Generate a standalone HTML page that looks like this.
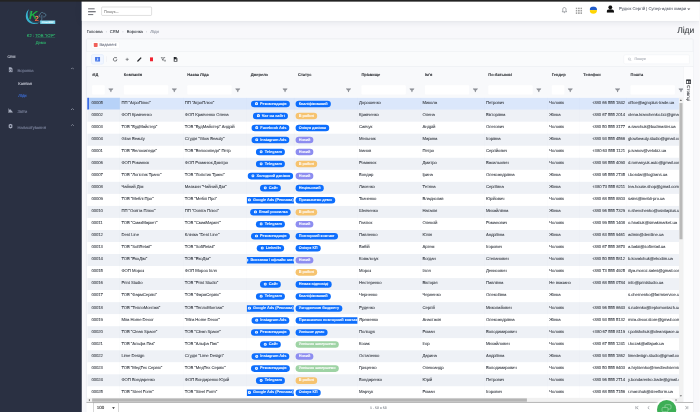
<!DOCTYPE html>
<html lang="uk">
<head>
<meta charset="utf-8">
<title>Ліди</title>
<style>
html,body{margin:0;padding:0;}
html{overflow:hidden;}
body{width:700px;height:412px;overflow:hidden;background:#f8f8fb;position:relative;font-family:"Liberation Sans",sans-serif;}
#stage{text-rendering:geometricPrecision;-webkit-text-stroke:0.3px currentColor;position:absolute;left:0;top:0;width:2560px;height:1507px;transform:scale(0.2734375);transform-origin:0 0;background:#f8f8fb;overflow:hidden;color:#495057;}
#stage *{box-sizing:border-box;}
.abs{position:absolute;}
#strip{left:0;top:0;width:2560px;height:6px;background:#232323;z-index:5;}
#side{left:0;top:0;padding-top:0;width:299px;height:1507px;background:#2a3042;}
#top{left:299px;top:0;width:2261px;height:76px;background:#fff;box-shadow:0 4px 28px rgba(18,38,63,.10),0 1px 4px rgba(18,38,63,.05);}
.t{position:absolute;white-space:nowrap;line-height:1;transform:translateY(-50%);}
/* sidebar */
.org{color:#2fb06c;-webkit-text-stroke:0.4px #2fb06c;font-size:15.2px;text-align:center;left:0;width:299px;}
.mh{color:#cfd3df;font-size:13px;left:27px;}
.mi{-webkit-text-stroke:0.4px #79809a;color:#79809a;font-size:15px;left:64px;}
.ms{color:#cdd1dd;font-size:14.9px;left:67px;}
.chev{position:absolute;left:259px;width:12px;height:7px;}
/* header */
#search{left:371px;top:25px;width:184px;height:32px;border:1.5px solid #8c8c8c;border-radius:4px;background:#fff;}
#search span{position:absolute;left:8px;top:50%;transform:translateY(-50%);font-size:14px;color:#8a8a8a;line-height:1;}
.user{color:#666b76;font-size:15.4px;}
/* page */
.bc{font-size:15.2px;color:#3c4048;}
.bc i{font-style:normal;color:#9aa0ac;margin:0 11px;}
.bc em{font-style:normal;color:#8a909d;}
#title{right:21px;font-size:31px;color:#3a3d42;}
#card{left:315px;top:141px;width:2221px;height:1380px;background:#f9fafc;border:2px solid #e5e8ed;border-radius:5px;}
#delbtn{left:335px;top:151.5px;width:102px;height:25.5px;border:1px solid #eceef2;border-radius:4px;background:#fff;}
#delbtn b{position:absolute;left:6.5px;top:4.5px;width:14.5px;height:14.5px;background:#f0605a;border-radius:2.5px;}
#delbtn span{position:absolute;left:27.5px;top:50%;transform:translateY(-50%);font-size:14.6px;color:#6b7080;line-height:1;}
.hr{height:3px;background:#e3e6eb;left:316px;width:2219px;}
#tb{left:316px;top:188px;width:2219px;height:55px;background:#fafbfc;}
#abtn{left:334px;top:199px;width:45px;height:36px;border:1.5px solid #c9dbfc;border-radius:6px;background:#f1f6ff;}
#vdiv{left:390px;top:206px;width:1px;height:21px;background:#dcdfe4;}
.ic{position:absolute;transform:translate(-50%,-50%);display:block;}
#tsearch{left:2281px;top:200px;width:241px;height:34px;border:1px solid #e4e7ec;border-radius:5px;background:#fff;}
#tsearch span{position:absolute;left:38px;top:50%;transform:translateY(-50%);font-size:13.5px;color:#a5aab3;line-height:1;}
/* grid */

#ghead{left:319px;top:244px;width:2180px;height:113px;background:#f8f9fb;overflow:hidden;}
.hc{position:absolute;top:0;height:113px;}
.hl{position:absolute;left:15px;top:29px;transform:translateY(-50%);font-weight:bold;font-size:14.5px;color:#2f3237;line-height:1;white-space:nowrap;}
.hin{position:absolute;left:15px;top:68px;height:34px;background:#fff;border-radius:3px;}
.hf{position:absolute;right:23px;top:86px;transform:translateY(-50%);width:19px;height:15px;}
.hc0 .hl,.hc0 .hin{left:18px;}
.hf svg{display:block;}
#gbody{left:319px;top:357px;width:2164px;height:1098px;overflow:hidden;background:#fff;}
.tr{position:absolute;left:0;width:2432px;height:45px;background:#fff;}
.tr.alt{background:#eef1f6;}
.tr.sel{background:#dbe7fb;}
.td{position:absolute;top:0;height:44px;overflow:hidden;white-space:nowrap;font-size:15.5px;letter-spacing:-0.25px;color:#40454d;border-left:1px solid rgba(120,130,150,.07);}
.td .tx{position:absolute;left:5px;top:19.3px;transform:translateY(-50%);line-height:1;}
.td.c0{border-left:none;}
.td.c0 .tx{left:15.2px;}
.td.c9 .tx{left:auto;right:5px;}
.sel .c0{background:#b7d2f8;border-left:6px solid #2d5fe2;}
.sel .c0 .tx{left:9.2px;}
.td.c3{display:flex;justify-content:center;align-items:center;}
.td.c4{display:flex;justify-content:flex-start;align-items:center;padding-left:4.5px;}
.bd{flex:none;display:inline-flex;align-items:center;justify-content:center;height:24px;border-radius:12px;padding:0 12px 0 12.5px;overflow:hidden;color:#fff;font-weight:bold;font-size:14.2px;line-height:1;margin-top:1px;}
.bd.s{justify-content:flex-start;padding:0 0 0 13.5px;}
.bd .bi{margin-right:7px;margin-top:-1px;display:block;flex:none;}
.bd{-webkit-text-stroke:0.12px #fff;}
.bd.b{background:#0d6efd;}
.bd.o{background:#f6c36f;}
.bd.p{background:#8d8df0;}
.bd.g{background:#9ed3a4;}
/* scrollbars */
#vs{left:2483px;top:357px;width:15px;height:1098px;background:#f1f1f1;}
#vs i{position:absolute;left:2px;top:20px;width:11px;height:498px;background:#b9b9b9;}
#hs{left:319px;top:1455px;width:2179px;height:15px;background:#f1f1f1;}
#pline{left:316px;top:1470px;width:2219px;height:3px;background:#a6a6a6;}
#hs i{position:absolute;left:18px;top:2px;height:12px;width:1590px;background:#b5b5b5;}
.arr{position:absolute;width:0;height:0;border:4.5px solid transparent;}
#sidep{left:2499px;top:244px;width:36px;height:1226px;background:#fdfdfe;border-left:1px solid #e6e8ec;}
#cols{position:absolute;left:18px;top:68px;transform-origin:0 0;transform:rotate(90deg) translateY(-50%);font-size:16px;color:#3a3d42;white-space:nowrap;line-height:1;}
/* pager */
#psel{left:342px;top:1473px;width:92px;height:40px;border:1.5px solid #6f6f6f;background:#fff;}
#psel span{position:absolute;left:11px;top:17px;transform:translateY(-50%);font-size:16.2px;color:#2b2b2b;line-height:1;}
#pinfo{left:1353px;font-size:13px;color:#7b8089;}
#fab{left:2403px;top:1463px;width:70px;height:70px;border-radius:50%;background:#3dae55;box-shadow:0 0 0 7px rgba(255,255,255,.75),0 0 14px 8px rgba(255,255,255,.6);}
</style>
</head>
<body>
<div id="stage">
  <div id="card" class="abs"></div>
  <div id="strip" class="abs"></div>
  <div class="abs" style="left:2557px;top:0;width:3px;height:1507px;background:#fbfbfb;z-index:4"></div>

  <!-- sidebar -->
  <div id="side" class="abs"><div class="abs" style="left:0;top:6px;width:299px;height:10px">
    <svg class="abs" style="left:90px;top:25px" width="120" height="66" viewBox="0 0 120 66">
      <defs><linearGradient id="kg" x1="0" y1="0" x2="1" y2="1"><stop offset="0" stop-color="#2cc257"/><stop offset="1" stop-color="#0a8a2f"/></linearGradient><linearGradient id="og" x1="0" y1="0" x2="0" y2="1"><stop offset="0" stop-color="#f2a566"/><stop offset="1" stop-color="#ef4a2f"/></linearGradient></defs>
      <path d="M17 2C3 12 0 34 12 48c10 11 30 13 45 1-13 8-30 5-38-5C9 32 9 14 17 2z" fill="#39b4d0"/>
      <path d="M22 8C14 20 14 38 26 47c8 6 20 6 28 0" fill="none" stroke="#2f93ad" stroke-width="1.300"/>
      <path d="M58 31c-6 0-7-8-1-9 0-8 10-10 13-4 7-2 11 8 4 12-2 1-4 1-6 1M63 24v14c0 6-4 9-8 10" fill="none" stroke="#6fa9c2" stroke-width="2"/>
      <rect x="57" y="44" width="55" height="12.500" fill="#79d5ec"/>
      <text x="84.500" y="54" font-family="Liberation Sans, sans-serif" font-size="9" font-weight="bold" font-style="italic" fill="#fff" text-anchor="middle">CloudERP</text>
      <text x="16" y="40" font-family="Liberation Sans, sans-serif" font-size="43" font-weight="bold" font-style="italic" fill="url(#kg)">K</text>
      <text x="37.500" y="46" font-family="Liberation Sans, sans-serif" font-size="27" font-weight="bold" fill="url(#og)">2</text>
    </svg>
    <div class="t org" style="top:126px">K2 : <u>ТОВ "К2Р"</u></div>
    <div class="t org" style="top:151px">Демо</div>
    <div class="t mh" style="top:200px">CRM</div>

    <svg class="abs" style="left:31px;top:239px" width="16" height="20" viewBox="0 0 16 20"><path d="M1 1h9l5 5v13H1z" fill="#a3a9bb"/><path d="M4 9h8v7H4z" fill="#2a3042"/><path d="M5.5 10.5h5v4h-5z" fill="#a3a9bb"/></svg>
    <div class="t mi" style="top:254px">Воронка</div>
    <svg class="chev" style="top:241px" viewBox="0 0 12 7"><path d="M1 6l5-5 5 5" fill="none" stroke="#bfc4d2" stroke-width="2.200"/></svg>
    <div class="t ms" style="top:302px">Канбан</div>
    <div class="t ms" style="top:347px;color:#3f74e6">Ліди</div>

    <svg class="abs" style="left:30px;top:390px" width="17" height="17" viewBox="0 0 17 17"><path d="M1 0v16h16" fill="none" stroke="#bfc4d2" stroke-width="2"/><path d="M3 14V6l4-3 4 5 4 2v4z" fill="#a3a9bb"/></svg>
    <div class="t mi" style="top:402px">Звіти</div>
    <svg class="chev" style="top:390px" viewBox="0 0 12 7"><path d="M1 6l5-5 5 5" fill="none" stroke="#bfc4d2" stroke-width="2.200"/></svg>

    <svg class="abs" style="left:30px;top:446px" width="17" height="19" viewBox="0 0 17 19"><path d="M8.5 0.5l7 4v10l-7 4-7-4v-10z" fill="#a3a9bb"/><circle cx="8.5" cy="9.5" r="3" fill="#2a3042"/></svg>
    <div class="t mi" style="top:461px">Налаштування</div>
    <svg class="chev" style="top:448px" viewBox="0 0 12 7"><path d="M1 6l5-5 5 5" fill="none" stroke="#bfc4d2" stroke-width="2.200"/></svg>
  </div></div>

  <!-- header -->
  <div id="top" class="abs">
    <svg class="abs" style="left:23px;top:30px" width="29" height="26" viewBox="0 0 29 26"><path d="M0 2h24M0 13h28M0 24h19" stroke="#3c4048" stroke-width="3.400"/></svg>
  </div>
  <div id="search" class="abs"><span>Пошук...</span></div>
  <svg class="ic" style="left:2064px;top:37px" width="20" height="24" viewBox="0 0 20 24"><path d="M10 2.5c-4 0-6 3-6 7v5l-2.5 3.5h17L16 14.500v-5c0-4-2-7-6-7z" fill="none" stroke="#6f747c" stroke-width="2.200"/><path d="M7.500 20.500a2.500 2.500 0 0 0 5 0z" fill="#6f747c"/></svg>
  <svg class="ic" style="left:2117px;top:39px" width="24" height="24" viewBox="0 0 24 24"><g fill="#a0a0a0"><rect x="0" y="0" width="6" height="6"/><rect x="9" y="0" width="6" height="6"/><rect x="18" y="0" width="6" height="6"/><rect x="0" y="9" width="6" height="6"/><rect x="9" y="9" width="6" height="6"/><rect x="18" y="9" width="6" height="6"/><rect x="0" y="18" width="6" height="6"/><rect x="9" y="18" width="6" height="6"/><rect x="18" y="18" width="6" height="6"/></g></svg>
  <svg class="ic" style="left:2170px;top:37px" width="28" height="28" viewBox="0 0 28 28"><defs><clipPath id="fc"><circle cx="14" cy="14" r="13.500"/></clipPath></defs><g clip-path="url(#fc)"><rect width="28" height="14" fill="#1f5bc9"/><rect y="14" width="28" height="14" fill="#ffd500"/></g></svg>
  <svg class="ic" style="left:2232px;top:33px" width="27" height="28" viewBox="0 0 27 28"><circle cx="13.500" cy="7.500" r="7" fill="#111"/><path d="M0 28v-5c0-5 5-8 13.500-8s13.500 3 13.500 8v5z" fill="#111"/></svg>
  <div class="t user" style="left:2264px;top:33px">Рудюк Сергій | Супер-адмін хмари</div>
  <svg class="ic" style="left:2519px;top:34px" width="13" height="7" viewBox="0 0 13 7"><path d="M0 0h13L6.500 7z" fill="#70737b"/></svg>

  <!-- breadcrumb -->
  <div class="t bc" style="left:317px;top:116px">Головна<i>·</i>CRM<i>·</i>Воронка<i>·</i><em>Ліди</em></div>
  <div id="title" class="t" style="top:111px">Ліди</div>

  <div id="delbtn" class="abs"><b></b><span>Видалені</span></div>
  <div class="abs hr" style="top:187px"></div>
  <div id="tb" class="abs"></div>
  <div class="abs hr" style="top:243px"></div>
  <div id="abtn" class="abs"></div>
  <svg class="ic" style="left:356.500px;top:217px" width="19" height="18" viewBox="0 0 19 18"><rect x="0" y="0" width="19" height="18" rx="2.500" fill="#4a7aea"/><rect x="7.500" y="5.500" width="4" height="7" fill="#e4edff"/><rect x="8.500" y="1.500" width="1.500" height="15" fill="#9dbbf6"/><rect x="2" y="13.500" width="4" height="3" fill="#eff5ff" opacity=".6"/></svg>
  <div id="vdiv" class="abs"></div>
  <svg class="ic" style="left:421px;top:217px" width="20" height="20" viewBox="0 0 20 20"><path d="M16.500 10a6.500 6.500 0 1 1-2-4.700" fill="none" stroke="#3f4247" stroke-width="2.500"/><path d="M11.500 5.500h4.500V1z" fill="#4a4d52"/></svg>
  <svg class="ic" style="left:465px;top:217px" width="14" height="14" viewBox="0 0 14 14"><path d="M7 1v12M1 7h12" stroke="#44474c" stroke-width="2"/></svg>
  <svg class="ic" style="left:510px;top:217px" width="19" height="19" viewBox="0 0 19 19"><path d="M1 18l1-4.500L14 1.500l3.500 3.500L5.500 17z" fill="#26282c"/></svg>
  <svg class="ic" style="left:554px;top:217px" width="12" height="16" viewBox="0 0 12 16"><path d="M0.500 2.500h11V15a1 1 0 0 1-1 1h-9a1 1 0 0 1-1-1z" fill="#f0222f"/><rect x="0" y="0.500" width="12" height="2.500" fill="#f0222f"/></svg>
  <svg class="ic" style="left:598px;top:217px" width="20" height="18" viewBox="0 0 20 18"><path d="M1 1h13v1.500l-5 5v6l-3-2V7.500l-5-5z" fill="none" stroke="#2f3237" stroke-width="2"/><path d="M12.500 11.500l6 5.500M18.500 11.500l-6 5.500" stroke="#2f3237" stroke-width="1.800"/></svg>
  <svg class="ic" style="left:642px;top:217px" width="15" height="18" viewBox="0 0 15 18"><path d="M0 0h9.500L15 5.500V18H0z" fill="#1f2226"/><path d="M4 9h7v6H4z" fill="#fff"/><path d="M9.500 0v5.500H15" fill="none" stroke="#fff" stroke-width="1"/></svg>
  <div id="tsearch" class="abs"><svg class="abs" style="left:14px;top:9px" width="14" height="14" viewBox="0 0 14 14"><circle cx="5.500" cy="5.500" r="4.300" fill="none" stroke="#a5aab3" stroke-width="1.700"/><path d="M8.800 8.800l4.200 4.200" stroke="#a5aab3" stroke-width="2"/></svg><span>Пошук</span></div>

  <!-- grid -->
  <div id="ghead" class="abs">
<div class="hc hc0" style="left:0px;width:119px"><div class="hl">#ІД</div><div class="hin" style="width:46px"></div><div class="hf"><svg class="fi" viewBox="0 0 19 15" width="19" height="15"><path d="M0.500 0.500h18v2.500L11.500 9v5.500h-4V9L0.500 3z" fill="#8f9298"/></svg></div></div>
<div class="hc hc1" style="left:119px;width:232px"><div class="hl">Компанія</div><div class="hin" style="width:162px"></div><div class="hf"><svg class="fi" viewBox="0 0 19 15" width="19" height="15"><path d="M0.500 0.500h18v2.500L11.500 9v5.500h-4V9L0.500 3z" fill="#8f9298"/></svg></div></div>
<div class="hc hc2" style="left:351px;width:232px"><div class="hl">Назва Ліда</div><div class="hin" style="width:162px"></div><div class="hf"><svg class="fi" viewBox="0 0 19 15" width="19" height="15"><path d="M0.500 0.500h18v2.500L11.500 9v5.500h-4V9L0.500 3z" fill="#8f9298"/></svg></div></div>
<div class="hc hc3" style="left:583px;width:173px"><div class="hl">Джерело</div><div class="hf"><svg class="fi" viewBox="0 0 19 15" width="19" height="15"><path d="M0.500 0.500h18v2.500L11.500 9v5.500h-4V9L0.500 3z" fill="#8f9298"/></svg></div></div>
<div class="hc hc4" style="left:756px;width:232px"><div class="hl">Статус</div><div class="hf"><svg class="fi" viewBox="0 0 19 15" width="19" height="15"><path d="M0.500 0.500h18v2.500L11.500 9v5.500h-4V9L0.500 3z" fill="#8f9298"/></svg></div></div>
<div class="hc hc5" style="left:988px;width:232px"><div class="hl">Прізвище</div><div class="hin" style="width:162px"></div><div class="hf"><svg class="fi" viewBox="0 0 19 15" width="19" height="15"><path d="M0.500 0.500h18v2.500L11.500 9v5.500h-4V9L0.500 3z" fill="#8f9298"/></svg></div></div>
<div class="hc hc6" style="left:1220px;width:232px"><div class="hl">Ім&#x27;я</div><div class="hin" style="width:162px"></div><div class="hf"><svg class="fi" viewBox="0 0 19 15" width="19" height="15"><path d="M0.500 0.500h18v2.500L11.500 9v5.500h-4V9L0.500 3z" fill="#8f9298"/></svg></div></div>
<div class="hc hc7" style="left:1452px;width:232px"><div class="hl">По-батькові</div><div class="hin" style="width:162px"></div><div class="hf"><svg class="fi" viewBox="0 0 19 15" width="19" height="15"><path d="M0.500 0.500h18v2.500L11.500 9v5.500h-4V9L0.500 3z" fill="#8f9298"/></svg></div></div>
<div class="hc hc8" style="left:1684px;width:115px"><div class="hl">Гендер</div><div class="hin" style="width:46px"></div><div class="hf"><svg class="fi" viewBox="0 0 19 15" width="19" height="15"><path d="M0.500 0.500h18v2.500L11.500 9v5.500h-4V9L0.500 3z" fill="#8f9298"/></svg></div></div>
<div class="hc hc9" style="left:1799px;width:173px"><div class="hl">Телефон</div><div class="hf"><svg class="fi" viewBox="0 0 19 15" width="19" height="15"><path d="M0.500 0.500h18v2.500L11.500 9v5.500h-4V9L0.500 3z" fill="#8f9298"/></svg></div></div>
<div class="hc hc10" style="left:1972px;width:232px"><div class="hl">Пошта</div><div class="hin" style="width:162px"></div><div class="hf"><svg class="fi" viewBox="0 0 19 15" width="19" height="15"><path d="M0.500 0.500h18v2.500L11.500 9v5.500h-4V9L0.500 3z" fill="#8f9298"/></svg></div></div>
  </div>
  <div id="gbody" class="abs">
<div class="tr sel" style="top:0px"><div class="td c0" style="left:0px;width:119px"><span class="tx">00005</span></div><div class="td c1" style="left:119px;width:232px"><span class="tx">ПП &quot;АгроПлюс&quot;</span></div><div class="td c2" style="left:351px;width:232px"><span class="tx">ПП &quot;АгроПлюс&quot;</span></div><div class="td c3" style="left:583px;width:173px"><span class="bd b s" style="width:141.5px;letter-spacing:0.026px"><svg class="bi" viewBox="0 0 12 12" width="12" height="12"><circle cx="6" cy="6" r="5.800" fill="#fff"/><path d="M6 3v6M3 6h6" stroke="#0d6efd" stroke-width="1.200"/></svg><span>Рекомендація</span></span></div><div class="td c4" style="left:756px;width:232px"><span class="bd b" style="width:129.4px;letter-spacing:-0.537px"><span>Кваліфікований</span></span></div><div class="td c5" style="left:988px;width:232px"><span class="tx">Дорошенко</span></div><div class="td c6" style="left:1220px;width:232px"><span class="tx">Микола</span></div><div class="td c7" style="left:1452px;width:232px"><span class="tx">Петрович</span></div><div class="td c8" style="left:1684px;width:115px"><span class="tx">Чоловік</span></div><div class="td c9" style="left:1799px;width:173px"><span class="tx">+380 66 555 1842</span></div><div class="td c10" style="left:1972px;width:232px"><span class="tx">office@agroplus-trade.ua</span></div></div>
<div class="tr alt" style="top:44px"><div class="td c0" style="left:0px;width:119px"><span class="tx">00002</span></div><div class="td c1" style="left:119px;width:232px"><span class="tx">ФОП Кравченко</span></div><div class="td c2" style="left:351px;width:232px"><span class="tx">ФОП Кравченко Олена</span></div><div class="td c3" style="left:583px;width:173px"><span class="bd b s" style="width:127.8px;letter-spacing:-0.077px"><svg class="bi" viewBox="0 0 12 12" width="12" height="12"><circle cx="6" cy="6" r="5.800" fill="#fff"/><path d="M6 3v6M3 6h6" stroke="#0d6efd" stroke-width="1.200"/></svg><span>Чат на сайті</span></span></div><div class="td c4" style="left:756px;width:232px"><span class="bd o" style="width:79.6px;letter-spacing:-0.55px"><span>В роботі</span></span></div><div class="td c5" style="left:988px;width:232px"><span class="tx">Кравченко</span></div><div class="td c6" style="left:1220px;width:232px"><span class="tx">Олена</span></div><div class="td c7" style="left:1452px;width:232px"><span class="tx">Вікторівна</span></div><div class="td c8" style="left:1684px;width:115px"><span class="tx">Жінка</span></div><div class="td c9" style="left:1799px;width:173px"><span class="tx">+380 67 555 2014</span></div><div class="td c10" style="left:1972px;width:232px"><span class="tx">olena.kravchenko.biz@gmail.com</span></div></div>
<div class="tr" style="top:88px"><div class="td c0" style="left:0px;width:119px"><span class="tx">00003</span></div><div class="td c1" style="left:119px;width:232px"><span class="tx">ТОВ &quot;БудМайстер&quot;</span></div><div class="td c2" style="left:351px;width:232px"><span class="tx">ТОВ &quot;БудМайстер&quot; Андрій</span></div><div class="td c3" style="left:583px;width:173px"><span class="bd b s" style="width:138.8px;letter-spacing:-0.138px"><svg class="bi" viewBox="0 0 12 12" width="12" height="12"><circle cx="6" cy="6" r="5.800" fill="#fff"/><path d="M6 3v6M3 6h6" stroke="#0d6efd" stroke-width="1.200"/></svg><span>Facebook Ads</span></span></div><div class="td c4" style="left:756px;width:232px"><span class="bd b" style="width:123.1px;letter-spacing:-0.274px"><span>Очікує дзвінка</span></span></div><div class="td c5" style="left:988px;width:232px"><span class="tx">Савчук</span></div><div class="td c6" style="left:1220px;width:232px"><span class="tx">Андрій</span></div><div class="td c7" style="left:1452px;width:232px"><span class="tx">Олегович</span></div><div class="td c8" style="left:1684px;width:115px"><span class="tx">Чоловік</span></div><div class="td c9" style="left:1799px;width:173px"><span class="tx">+380 50 555 3177</span></div><div class="td c10" style="left:1972px;width:232px"><span class="tx">a.savchuk@budmaster.ua</span></div></div>
<div class="tr alt" style="top:132px"><div class="td c0" style="left:0px;width:119px"><span class="tx">00004</span></div><div class="td c1" style="left:119px;width:232px"><span class="tx">Glow Beauty</span></div><div class="td c2" style="left:351px;width:232px"><span class="tx">Студія &quot;Glow Beauty&quot;</span></div><div class="td c3" style="left:583px;width:173px"><span class="bd b s" style="width:138.8px;letter-spacing:-0.249px"><svg class="bi" viewBox="0 0 12 12" width="12" height="12"><circle cx="6" cy="6" r="5.800" fill="#fff"/><path d="M6 3v6M3 6h6" stroke="#0d6efd" stroke-width="1.200"/></svg><span>Instagram Ads</span></span></div><div class="td c4" style="left:756px;width:232px"><span class="bd p" style="width:65.5px;letter-spacing:-0.816px"><span>Новий</span></span></div><div class="td c5" style="left:988px;width:232px"><span class="tx">Мельник</span></div><div class="td c6" style="left:1220px;width:232px"><span class="tx">Марина</span></div><div class="td c7" style="left:1452px;width:232px"><span class="tx">Ігорівна</span></div><div class="td c8" style="left:1684px;width:115px"><span class="tx">Жінка</span></div><div class="td c9" style="left:1799px;width:173px"><span class="tx">+380 93 555 4566</span></div><div class="td c10" style="left:1972px;width:232px"><span class="tx">glowbeauty.studio@gmail.com</span></div></div>
<div class="tr" style="top:176px"><div class="td c0" style="left:0px;width:119px"><span class="tx">00001</span></div><div class="td c1" style="left:119px;width:232px"><span class="tx">ТОВ &quot;Велосипеди&quot;</span></div><div class="td c2" style="left:351px;width:232px"><span class="tx">ТОВ &quot;Велосипеди&quot; Петр</span></div><div class="td c3" style="left:583px;width:173px"><span class="bd b s" style="width:106.9px;letter-spacing:0.109px"><svg class="bi" viewBox="0 0 12 12" width="12" height="12"><circle cx="6" cy="6" r="5.800" fill="#fff"/><path d="M6 3v6M3 6h6" stroke="#0d6efd" stroke-width="1.200"/></svg><span>Telegram</span></span></div><div class="td c4" style="left:756px;width:232px"><span class="bd p" style="width:65.5px;letter-spacing:-0.816px"><span>Новий</span></span></div><div class="td c5" style="left:988px;width:232px"><span class="tx">Іванов</span></div><div class="td c6" style="left:1220px;width:232px"><span class="tx">Петро</span></div><div class="td c7" style="left:1452px;width:232px"><span class="tx">Сергійович</span></div><div class="td c8" style="left:1684px;width:115px"><span class="tx">Чоловік</span></div><div class="td c9" style="left:1799px;width:173px"><span class="tx">+380 63 555 1121</span></div><div class="td c10" style="left:1972px;width:232px"><span class="tx">p.ivanov@velobiz.ua</span></div></div>
<div class="tr alt" style="top:220px"><div class="td c0" style="left:0px;width:119px"><span class="tx">00006</span></div><div class="td c1" style="left:119px;width:232px"><span class="tx">ФОП Романюк</span></div><div class="td c2" style="left:351px;width:232px"><span class="tx">ФОП Романюк Дмитро</span></div><div class="td c3" style="left:583px;width:173px"><span class="bd b s" style="width:106.9px;letter-spacing:0.109px"><svg class="bi" viewBox="0 0 12 12" width="12" height="12"><circle cx="6" cy="6" r="5.800" fill="#fff"/><path d="M6 3v6M3 6h6" stroke="#0d6efd" stroke-width="1.200"/></svg><span>Telegram</span></span></div><div class="td c4" style="left:756px;width:232px"><span class="bd o" style="width:79.6px;letter-spacing:-0.55px"><span>В роботі</span></span></div><div class="td c5" style="left:988px;width:232px"><span class="tx">Романюк</span></div><div class="td c6" style="left:1220px;width:232px"><span class="tx">Дмитро</span></div><div class="td c7" style="left:1452px;width:232px"><span class="tx">Васильович</span></div><div class="td c8" style="left:1684px;width:115px"><span class="tx">Чоловік</span></div><div class="td c9" style="left:1799px;width:173px"><span class="tx">+380 98 555 4090</span></div><div class="td c10" style="left:1972px;width:232px"><span class="tx">d.romanyuk.auto@gmail.com</span></div></div>
<div class="tr" style="top:264px"><div class="td c0" style="left:0px;width:119px"><span class="tx">00007</span></div><div class="td c1" style="left:119px;width:232px"><span class="tx">ТОВ &quot;Логістик Транс&quot;</span></div><div class="td c2" style="left:351px;width:232px"><span class="tx">ТОВ &quot;Логістик Транс&quot;</span></div><div class="td c3" style="left:583px;width:173px"><span class="bd b s" style="width:166.6px;letter-spacing:-0.281px"><svg class="bi" viewBox="0 0 12 12" width="12" height="12"><circle cx="6" cy="6" r="5.800" fill="#fff"/><path d="M6 3v6M3 6h6" stroke="#0d6efd" stroke-width="1.200"/></svg><span>Холодний дзвінок</span></span></div><div class="td c4" style="left:756px;width:232px"><span class="bd p" style="width:65.5px;letter-spacing:-0.816px"><span>Новий</span></span></div><div class="td c5" style="left:988px;width:232px"><span class="tx">Бондар</span></div><div class="td c6" style="left:1220px;width:232px"><span class="tx">Ірина</span></div><div class="td c7" style="left:1452px;width:232px"><span class="tx">Олександрівна</span></div><div class="td c8" style="left:1684px;width:115px"><span class="tx">Жінка</span></div><div class="td c9" style="left:1799px;width:173px"><span class="tx">+380 95 555 2735</span></div><div class="td c10" style="left:1972px;width:232px"><span class="tx">i.bondar@logtrans.ua</span></div></div>
<div class="tr alt" style="top:308px"><div class="td c0" style="left:0px;width:119px"><span class="tx">00008</span></div><div class="td c1" style="left:119px;width:232px"><span class="tx">Чайний Дім</span></div><div class="td c2" style="left:351px;width:232px"><span class="tx">Магазин &quot;Чайний Дім&quot;</span></div><div class="td c3" style="left:583px;width:173px"><span class="bd b s" style="width:76.5px;letter-spacing:-0.371px"><svg class="bi" viewBox="0 0 12 12" width="12" height="12"><circle cx="6" cy="6" r="5.800" fill="#fff"/><path d="M6 3v6M3 6h6" stroke="#0d6efd" stroke-width="1.200"/></svg><span>Сайт</span></span></div><div class="td c4" style="left:756px;width:232px"><span class="bd b" style="width:103.2px;letter-spacing:-0.467px"><span>Нецільовий</span></span></div><div class="td c5" style="left:988px;width:232px"><span class="tx">Лисенко</span></div><div class="td c6" style="left:1220px;width:232px"><span class="tx">Тетяна</span></div><div class="td c7" style="left:1452px;width:232px"><span class="tx">Сергіївна</span></div><div class="td c8" style="left:1684px;width:115px"><span class="tx">Жінка</span></div><div class="td c9" style="left:1799px;width:173px"><span class="tx">+380 73 555 6211</span></div><div class="td c10" style="left:1972px;width:232px"><span class="tx">tea.house.shop@gmail.com</span></div></div>
<div class="tr" style="top:352px"><div class="td c0" style="left:0px;width:119px"><span class="tx">00009</span></div><div class="td c1" style="left:119px;width:232px"><span class="tx">ТОВ &quot;Меблі Про&quot;</span></div><div class="td c2" style="left:351px;width:232px"><span class="tx">ТОВ &quot;Меблі Про&quot;</span></div><div class="td c3" style="left:583px;width:173px"><span class="bd b s" style="width:193px;letter-spacing:-0.143px"><svg class="bi" viewBox="0 0 12 12" width="12" height="12"><circle cx="6" cy="6" r="5.800" fill="#fff"/><path d="M6 3v6M3 6h6" stroke="#0d6efd" stroke-width="1.200"/></svg><span>Google Ads (Реклама)</span></span></div><div class="td c4" style="left:756px;width:232px"><span class="bd b" style="width:145px;letter-spacing:-0.216px"><span>Призначено демо</span></span></div><div class="td c5" style="left:988px;width:232px"><span class="tx">Ткаченко</span></div><div class="td c6" style="left:1220px;width:232px"><span class="tx">Владислав</span></div><div class="td c7" style="left:1452px;width:232px"><span class="tx">Юрійович</span></div><div class="td c8" style="left:1684px;width:115px"><span class="tx">Чоловік</span></div><div class="td c9" style="left:1799px;width:173px"><span class="tx">+380 68 555 8803</span></div><div class="td c10" style="left:1972px;width:232px"><span class="tx">sales@mebli-pro.ua</span></div></div>
<div class="tr alt" style="top:396px"><div class="td c0" style="left:0px;width:119px"><span class="tx">00010</span></div><div class="td c1" style="left:119px;width:232px"><span class="tx">ПП &quot;Освіта Плюс&quot;</span></div><div class="td c2" style="left:351px;width:232px"><span class="tx">ПП &quot;Освіта Плюс&quot;</span></div><div class="td c3" style="left:583px;width:173px"><span class="bd b s" style="width:148.8px;letter-spacing:-0.105px"><svg class="bi" viewBox="0 0 12 12" width="12" height="12"><circle cx="6" cy="6" r="5.800" fill="#fff"/><path d="M6 3v6M3 6h6" stroke="#0d6efd" stroke-width="1.200"/></svg><span>Email розсилка</span></span></div><div class="td c4" style="left:756px;width:232px"><span class="bd o" style="width:79.6px;letter-spacing:-0.55px"><span>В роботі</span></span></div><div class="td c5" style="left:988px;width:232px"><span class="tx">Шевченко</span></div><div class="td c6" style="left:1220px;width:232px"><span class="tx">Наталія</span></div><div class="td c7" style="left:1452px;width:232px"><span class="tx">Михайлівна</span></div><div class="td c8" style="left:1684px;width:115px"><span class="tx">Жінка</span></div><div class="td c9" style="left:1799px;width:173px"><span class="tx">+380 96 555 7329</span></div><div class="td c10" style="left:1972px;width:232px"><span class="tx">n.shevchenko@osvitaplus.ua</span></div></div>
<div class="tr" style="top:440px"><div class="td c0" style="left:0px;width:119px"><span class="tx">00011</span></div><div class="td c1" style="left:119px;width:232px"><span class="tx">ТОВ &quot;СмакМаркет&quot;</span></div><div class="td c2" style="left:351px;width:232px"><span class="tx">ТОВ &quot;СмакМаркет&quot;</span></div><div class="td c3" style="left:583px;width:173px"><span class="bd b s" style="width:106.9px;letter-spacing:0.109px"><svg class="bi" viewBox="0 0 12 12" width="12" height="12"><circle cx="6" cy="6" r="5.800" fill="#fff"/><path d="M6 3v6M3 6h6" stroke="#0d6efd" stroke-width="1.200"/></svg><span>Telegram</span></span></div><div class="td c4" style="left:756px;width:232px"><span class="bd p" style="width:65.5px;letter-spacing:-0.816px"><span>Новий</span></span></div><div class="td c5" style="left:988px;width:232px"><span class="tx">Гнатюк</span></div><div class="td c6" style="left:1220px;width:232px"><span class="tx">Олексій</span></div><div class="td c7" style="left:1452px;width:232px"><span class="tx">Романович</span></div><div class="td c8" style="left:1684px;width:115px"><span class="tx">Чоловік</span></div><div class="td c9" style="left:1799px;width:173px"><span class="tx">+380 99 555 1408</span></div><div class="td c10" style="left:1972px;width:232px"><span class="tx">o.hnatiuk@smakmarket.ua</span></div></div>
<div class="tr alt" style="top:484px"><div class="td c0" style="left:0px;width:119px"><span class="tx">00012</span></div><div class="td c1" style="left:119px;width:232px"><span class="tx">Dent Line</span></div><div class="td c2" style="left:351px;width:232px"><span class="tx">Клініка &quot;Dent Line&quot;</span></div><div class="td c3" style="left:583px;width:173px"><span class="bd b s" style="width:141.5px;letter-spacing:0.026px"><svg class="bi" viewBox="0 0 12 12" width="12" height="12"><circle cx="6" cy="6" r="5.800" fill="#fff"/><path d="M6 3v6M3 6h6" stroke="#0d6efd" stroke-width="1.200"/></svg><span>Рекомендація</span></span></div><div class="td c4" style="left:756px;width:232px"><span class="bd b" style="width:155.6px;letter-spacing:-0.199px"><span>Повторний контакт</span></span></div><div class="td c5" style="left:988px;width:232px"><span class="tx">Павленко</span></div><div class="td c6" style="left:1220px;width:232px"><span class="tx">Юлія</span></div><div class="td c7" style="left:1452px;width:232px"><span class="tx">Андріївна</span></div><div class="td c8" style="left:1684px;width:115px"><span class="tx">Жінка</span></div><div class="td c9" style="left:1799px;width:173px"><span class="tx">+380 63 555 9461</span></div><div class="td c10" style="left:1972px;width:232px"><span class="tx">admin@dentline.ua</span></div></div>
<div class="tr" style="top:528px"><div class="td c0" style="left:0px;width:119px"><span class="tx">00013</span></div><div class="td c1" style="left:119px;width:232px"><span class="tx">ТОВ &quot;SoftRetail&quot;</span></div><div class="td c2" style="left:351px;width:232px"><span class="tx">ТОВ &quot;SoftRetail&quot;</span></div><div class="td c3" style="left:583px;width:173px"><span class="bd b s" style="width:99.5px;letter-spacing:-0.355px"><svg class="bi" viewBox="0 0 12 12" width="12" height="12"><circle cx="6" cy="6" r="5.800" fill="#fff"/><path d="M6 3v6M3 6h6" stroke="#0d6efd" stroke-width="1.200"/></svg><span>LinkedIn</span></span></div><div class="td c4" style="left:756px;width:232px"><span class="bd b" style="width:92.7px;letter-spacing:-0.072px"><span>Очікує КП</span></span></div><div class="td c5" style="left:988px;width:232px"><span class="tx">Бабій</span></div><div class="td c6" style="left:1220px;width:232px"><span class="tx">Артем</span></div><div class="td c7" style="left:1452px;width:232px"><span class="tx">Ігорович</span></div><div class="td c8" style="left:1684px;width:115px"><span class="tx">Чоловік</span></div><div class="td c9" style="left:1799px;width:173px"><span class="tx">+380 67 555 3670</span></div><div class="td c10" style="left:1972px;width:232px"><span class="tx">a.babii@softretail.ua</span></div></div>
<div class="tr alt" style="top:572px"><div class="td c0" style="left:0px;width:119px"><span class="tx">00014</span></div><div class="td c1" style="left:119px;width:232px"><span class="tx">ТОВ &quot;ЕкоДім&quot;</span></div><div class="td c2" style="left:351px;width:232px"><span class="tx">ТОВ &quot;ЕкоДім&quot;</span></div><div class="td c3" style="left:583px;width:173px"><span class="bd b s" style="width:211px;letter-spacing:-0.204px"><svg class="bi" viewBox="0 0 12 12" width="12" height="12"><circle cx="6" cy="6" r="5.800" fill="#fff"/><path d="M6 3v6M3 6h6" stroke="#0d6efd" stroke-width="1.200"/></svg><span>Виставка / офлайн захід</span></span></div><div class="td c4" style="left:756px;width:232px"><span class="bd p" style="width:65.5px;letter-spacing:-0.816px"><span>Новий</span></span></div><div class="td c5" style="left:988px;width:232px"><span class="tx">Ковальчук</span></div><div class="td c6" style="left:1220px;width:232px"><span class="tx">Богдан</span></div><div class="td c7" style="left:1452px;width:232px"><span class="tx">Степанович</span></div><div class="td c8" style="left:1684px;width:115px"><span class="tx">Чоловік</span></div><div class="td c9" style="left:1799px;width:173px"><span class="tx">+380 50 555 5812</span></div><div class="td c10" style="left:1972px;width:232px"><span class="tx">b.kovalchuk@ekodim.ua</span></div></div>
<div class="tr" style="top:616px"><div class="td c0" style="left:0px;width:119px"><span class="tx">00015</span></div><div class="td c1" style="left:119px;width:232px"><span class="tx">ФОП Мороз</span></div><div class="td c2" style="left:351px;width:232px"><span class="tx">ФОП Мороз Ілля</span></div><div class="td c3" style="left:583px;width:173px"></div><div class="td c4" style="left:756px;width:232px"><span class="bd o" style="width:79.6px;letter-spacing:-0.55px"><span>В роботі</span></span></div><div class="td c5" style="left:988px;width:232px"><span class="tx">Мороз</span></div><div class="td c6" style="left:1220px;width:232px"><span class="tx">Ілля</span></div><div class="td c7" style="left:1452px;width:232px"><span class="tx">Денисович</span></div><div class="td c8" style="left:1684px;width:115px"><span class="tx">Чоловік</span></div><div class="td c9" style="left:1799px;width:173px"><span class="tx">+380 73 555 4925</span></div><div class="td c10" style="left:1972px;width:232px"><span class="tx">illya.moroz.sales@gmail.com</span></div></div>
<div class="tr alt" style="top:660px"><div class="td c0" style="left:0px;width:119px"><span class="tx">00016</span></div><div class="td c1" style="left:119px;width:232px"><span class="tx">Print Studio</span></div><div class="td c2" style="left:351px;width:232px"><span class="tx">ТОВ &quot;Print Studio&quot;</span></div><div class="td c3" style="left:583px;width:173px"><span class="bd b s" style="width:76.5px;letter-spacing:-0.371px"><svg class="bi" viewBox="0 0 12 12" width="12" height="12"><circle cx="6" cy="6" r="5.800" fill="#fff"/><path d="M6 3v6M3 6h6" stroke="#0d6efd" stroke-width="1.200"/></svg><span>Сайт</span></span></div><div class="td c4" style="left:756px;width:232px"><span class="bd b" style="width:132px;letter-spacing:-0.33px"><span>Немає відповіді</span></span></div><div class="td c5" style="left:988px;width:232px"><span class="tx">Нестеренко</span></div><div class="td c6" style="left:1220px;width:232px"><span class="tx">Вікторія</span></div><div class="td c7" style="left:1452px;width:232px"><span class="tx">Павлівна</span></div><div class="td c8" style="left:1684px;width:115px"><span class="tx">Не вказано</span></div><div class="td c9" style="left:1799px;width:173px"><span class="tx">+380 68 555 0784</span></div><div class="td c10" style="left:1972px;width:232px"><span class="tx">info@printstudio.ua</span></div></div>
<div class="tr" style="top:704px"><div class="td c0" style="left:0px;width:119px"><span class="tx">00017</span></div><div class="td c1" style="left:119px;width:232px"><span class="tx">ТОВ &quot;ФармСервіс&quot;</span></div><div class="td c2" style="left:351px;width:232px"><span class="tx">ТОВ &quot;ФармСервіс&quot;</span></div><div class="td c3" style="left:583px;width:173px"><span class="bd b s" style="width:106.9px;letter-spacing:0.109px"><svg class="bi" viewBox="0 0 12 12" width="12" height="12"><circle cx="6" cy="6" r="5.800" fill="#fff"/><path d="M6 3v6M3 6h6" stroke="#0d6efd" stroke-width="1.200"/></svg><span>Telegram</span></span></div><div class="td c4" style="left:756px;width:232px"><span class="bd b" style="width:129.4px;letter-spacing:-0.537px"><span>Кваліфікований</span></span></div><div class="td c5" style="left:988px;width:232px"><span class="tx">Черненко</span></div><div class="td c6" style="left:1220px;width:232px"><span class="tx">Черненко</span></div><div class="td c7" style="left:1452px;width:232px"><span class="tx">Олексіївна</span></div><div class="td c8" style="left:1684px;width:115px"><span class="tx">Жінка</span></div><div class="td c9" style="left:1799px;width:173px"><span class="tx"></span></div><div class="td c10" style="left:1972px;width:232px"><span class="tx">s.chernenko@farmservice.ua</span></div></div>
<div class="tr alt" style="top:748px"><div class="td c0" style="left:0px;width:119px"><span class="tx">00018</span></div><div class="td c1" style="left:119px;width:232px"><span class="tx">ТОВ &quot;ТеплоМонтаж&quot;</span></div><div class="td c2" style="left:351px;width:232px"><span class="tx">ТОВ &quot;ТеплоМонтаж&quot;</span></div><div class="td c3" style="left:583px;width:173px"><span class="bd b s" style="width:193px;letter-spacing:-0.143px"><svg class="bi" viewBox="0 0 12 12" width="12" height="12"><circle cx="6" cy="6" r="5.800" fill="#fff"/><path d="M6 3v6M3 6h6" stroke="#0d6efd" stroke-width="1.200"/></svg><span>Google Ads (Реклама)</span></span></div><div class="td c4" style="left:756px;width:232px"><span class="bd b" style="width:171.9px;letter-spacing:-0.032px"><span>Узгодження бюджету</span></span></div><div class="td c5" style="left:988px;width:232px"><span class="tx">Руденко</span></div><div class="td c6" style="left:1220px;width:232px"><span class="tx">Сергій</span></div><div class="td c7" style="left:1452px;width:232px"><span class="tx">Миколайович</span></div><div class="td c8" style="left:1684px;width:115px"><span class="tx">Чоловік</span></div><div class="td c9" style="left:1799px;width:173px"><span class="tx">+380 96 555 6643</span></div><div class="td c10" style="left:1972px;width:232px"><span class="tx">s.rudenko@teplomontazh.ua</span></div></div>
<div class="tr" style="top:792px"><div class="td c0" style="left:0px;width:119px"><span class="tx">00019</span></div><div class="td c1" style="left:119px;width:232px"><span class="tx">Mira Home Decor</span></div><div class="td c2" style="left:351px;width:232px"><span class="tx">&quot;Mira Home Decor&quot;</span></div><div class="td c3" style="left:583px;width:173px"><span class="bd b s" style="width:138.8px;letter-spacing:-0.249px"><svg class="bi" viewBox="0 0 12 12" width="12" height="12"><circle cx="6" cy="6" r="5.800" fill="#fff"/><path d="M6 3v6M3 6h6" stroke="#0d6efd" stroke-width="1.200"/></svg><span>Instagram Ads</span></span></div><div class="td c4" style="left:756px;width:232px"><span class="bd b" style="width:245.4px;letter-spacing:0px"><span>Призначено повторний контакт</span></span></div><div class="td c5" style="left:988px;width:232px"><span class="tx">Яременко</span></div><div class="td c6" style="left:1220px;width:232px"><span class="tx">Анастасія</span></div><div class="td c7" style="left:1452px;width:232px"><span class="tx">Олександрівна</span></div><div class="td c8" style="left:1684px;width:115px"><span class="tx">Жінка</span></div><div class="td c9" style="left:1799px;width:173px"><span class="tx">+380 93 555 5132</span></div><div class="td c10" style="left:1972px;width:232px"><span class="tx">mira.decor.store@gmail.com</span></div></div>
<div class="tr alt" style="top:836px"><div class="td c0" style="left:0px;width:119px"><span class="tx">00020</span></div><div class="td c1" style="left:119px;width:232px"><span class="tx">ТОВ &quot;Clean Space&quot;</span></div><div class="td c2" style="left:351px;width:232px"><span class="tx">ТОВ &quot;Clean Space&quot;</span></div><div class="td c3" style="left:583px;width:173px"><span class="bd b s" style="width:141.5px;letter-spacing:0.026px"><svg class="bi" viewBox="0 0 12 12" width="12" height="12"><circle cx="6" cy="6" r="5.800" fill="#fff"/><path d="M6 3v6M3 6h6" stroke="#0d6efd" stroke-width="1.200"/></svg><span>Рекомендація</span></span></div><div class="td c4" style="left:756px;width:232px"><span class="bd b" style="width:117.9px;letter-spacing:-0.237px"><span>Успішне демо</span></span></div><div class="td c5" style="left:988px;width:232px"><span class="tx">Поліщук</span></div><div class="td c6" style="left:1220px;width:232px"><span class="tx">Роман</span></div><div class="td c7" style="left:1452px;width:232px"><span class="tx">Володимирович</span></div><div class="td c8" style="left:1684px;width:115px"><span class="tx">Чоловік</span></div><div class="td c9" style="left:1799px;width:173px"><span class="tx">+380 67 555 8119</span></div><div class="td c10" style="left:1972px;width:232px"><span class="tx">r.polishchuk@cleanspace.ua</span></div></div>
<div class="tr" style="top:880px"><div class="td c0" style="left:0px;width:119px"><span class="tx">00021</span></div><div class="td c1" style="left:119px;width:232px"><span class="tx">ТОВ &quot;Альфа Пак&quot;</span></div><div class="td c2" style="left:351px;width:232px"><span class="tx">ТОВ &quot;Альфа Пак&quot;</span></div><div class="td c3" style="left:583px;width:173px"><span class="bd b s" style="width:76.5px;letter-spacing:-0.371px"><svg class="bi" viewBox="0 0 12 12" width="12" height="12"><circle cx="6" cy="6" r="5.800" fill="#fff"/><path d="M6 3v6M3 6h6" stroke="#0d6efd" stroke-width="1.200"/></svg><span>Сайт</span></span></div><div class="td c4" style="left:756px;width:232px"><span class="bd g" style="width:158.2px;letter-spacing:-0.261px"><span>Успішно завершено</span></span></div><div class="td c5" style="left:988px;width:232px"><span class="tx">Козак</span></div><div class="td c6" style="left:1220px;width:232px"><span class="tx">Ігор</span></div><div class="td c7" style="left:1452px;width:232px"><span class="tx">Михайлович</span></div><div class="td c8" style="left:1684px;width:115px"><span class="tx">Чоловік</span></div><div class="td c9" style="left:1799px;width:173px"><span class="tx">+380 67 555 1241</span></div><div class="td c10" style="left:1972px;width:232px"><span class="tx">i.kozak@alfapak.ua</span></div></div>
<div class="tr alt" style="top:924px"><div class="td c0" style="left:0px;width:119px"><span class="tx">00022</span></div><div class="td c1" style="left:119px;width:232px"><span class="tx">Lime Design</span></div><div class="td c2" style="left:351px;width:232px"><span class="tx">Студія &quot;Lime Design&quot;</span></div><div class="td c3" style="left:583px;width:173px"><span class="bd b s" style="width:138.8px;letter-spacing:-0.249px"><svg class="bi" viewBox="0 0 12 12" width="12" height="12"><circle cx="6" cy="6" r="5.800" fill="#fff"/><path d="M6 3v6M3 6h6" stroke="#0d6efd" stroke-width="1.200"/></svg><span>Instagram Ads</span></span></div><div class="td c4" style="left:756px;width:232px"><span class="bd p" style="width:65.5px;letter-spacing:-0.816px"><span>Новий</span></span></div><div class="td c5" style="left:988px;width:232px"><span class="tx">Остапенко</span></div><div class="td c6" style="left:1220px;width:232px"><span class="tx">Дарина</span></div><div class="td c7" style="left:1452px;width:232px"><span class="tx">Андріївна</span></div><div class="td c8" style="left:1684px;width:115px"><span class="tx">Жінка</span></div><div class="td c9" style="left:1799px;width:173px"><span class="tx">+380 93 555 1862</span></div><div class="td c10" style="left:1972px;width:232px"><span class="tx">limedesign.studio@gmail.com</span></div></div>
<div class="tr" style="top:968px"><div class="td c0" style="left:0px;width:119px"><span class="tx">00023</span></div><div class="td c1" style="left:119px;width:232px"><span class="tx">ТОВ &quot;МедТех Сервіс&quot;</span></div><div class="td c2" style="left:351px;width:232px"><span class="tx">ТОВ &quot;МедТех Сервіс&quot;</span></div><div class="td c3" style="left:583px;width:173px"><span class="bd b s" style="width:141.5px;letter-spacing:0.026px"><svg class="bi" viewBox="0 0 12 12" width="12" height="12"><circle cx="6" cy="6" r="5.800" fill="#fff"/><path d="M6 3v6M3 6h6" stroke="#0d6efd" stroke-width="1.200"/></svg><span>Рекомендація</span></span></div><div class="td c4" style="left:756px;width:232px"><span class="bd g" style="width:158.2px;letter-spacing:-0.261px"><span>Успішно завершено</span></span></div><div class="td c5" style="left:988px;width:232px"><span class="tx">Гриценко</span></div><div class="td c6" style="left:1220px;width:232px"><span class="tx">Олександр</span></div><div class="td c7" style="left:1452px;width:232px"><span class="tx">Володимирович</span></div><div class="td c8" style="left:1684px;width:115px"><span class="tx">Чоловік</span></div><div class="td c9" style="left:1799px;width:173px"><span class="tx">+380 50 555 6403</span></div><div class="td c10" style="left:1972px;width:232px"><span class="tx">a.hrytsenko@medtechservice.ua</span></div></div>
<div class="tr alt" style="top:1012px"><div class="td c0" style="left:0px;width:119px"><span class="tx">00024</span></div><div class="td c1" style="left:119px;width:232px"><span class="tx">ФОП Бондаренко</span></div><div class="td c2" style="left:351px;width:232px"><span class="tx">ФОП Бондаренко Юрій</span></div><div class="td c3" style="left:583px;width:173px"><span class="bd b s" style="width:106.9px;letter-spacing:0.109px"><svg class="bi" viewBox="0 0 12 12" width="12" height="12"><circle cx="6" cy="6" r="5.800" fill="#fff"/><path d="M6 3v6M3 6h6" stroke="#0d6efd" stroke-width="1.200"/></svg><span>Telegram</span></span></div><div class="td c4" style="left:756px;width:232px"><span class="bd o" style="width:79.6px;letter-spacing:-0.55px"><span>В роботі</span></span></div><div class="td c5" style="left:988px;width:232px"><span class="tx">Бондаренко</span></div><div class="td c6" style="left:1220px;width:232px"><span class="tx">Юрій</span></div><div class="td c7" style="left:1452px;width:232px"><span class="tx">Петрович</span></div><div class="td c8" style="left:1684px;width:115px"><span class="tx">Чоловік</span></div><div class="td c9" style="left:1799px;width:173px"><span class="tx">+380 96 555 2714</span></div><div class="td c10" style="left:1972px;width:232px"><span class="tx">y.bondarenko.trade@gmail.com</span></div></div>
<div class="tr" style="top:1056px"><div class="td c0" style="left:0px;width:119px"><span class="tx">00025</span></div><div class="td c1" style="left:119px;width:232px"><span class="tx">ТОВ &quot;Steel Form&quot;</span></div><div class="td c2" style="left:351px;width:232px"><span class="tx">ТОВ &quot;Steel Form&quot;</span></div><div class="td c3" style="left:583px;width:173px"><span class="bd b s" style="width:193px;letter-spacing:-0.143px"><svg class="bi" viewBox="0 0 12 12" width="12" height="12"><circle cx="6" cy="6" r="5.800" fill="#fff"/><path d="M6 3v6M3 6h6" stroke="#0d6efd" stroke-width="1.200"/></svg><span>Google Ads (Реклама)</span></span></div><div class="td c4" style="left:756px;width:232px"><span class="bd b" style="width:92.7px;letter-spacing:-0.072px"><span>Очікує КП</span></span></div><div class="td c5" style="left:988px;width:232px"><span class="tx">Марчук</span></div><div class="td c6" style="left:1220px;width:232px"><span class="tx">Роман</span></div><div class="td c7" style="left:1452px;width:232px"><span class="tx">Ігорович</span></div><div class="td c8" style="left:1684px;width:115px"><span class="tx">Чоловік</span></div><div class="td c9" style="left:1799px;width:173px"><span class="tx">+380 68 555 7156</span></div><div class="td c10" style="left:1972px;width:232px"><span class="tx">r.marchuk@steelform.ua</span></div></div>
  </div>
  <div id="vs" class="abs"><i></i><b class="arr" style="left:3px;top:7px;border-bottom-color:#2e2e2e;border-top-width:0"></b><b class="arr" style="left:3px;bottom:5px;border-top-color:#2e2e2e;border-bottom-width:0"></b></div>
  <div id="hs" class="abs"><i></i><b class="arr" style="left:5px;top:4px;border-right-color:#2e2e2e;border-left-width:0"></b><b class="arr" style="left:2152px;top:4px;border-left-color:#2e2e2e;border-right-width:0"></b></div>
  <div class="abs" style="left:316px;top:1471px;width:2219px;height:40px;background:#fff"></div>
  <div id="pline" class="abs"></div>
  <div id="sidep" class="abs">
    <svg class="abs" style="left:9px;top:46px" width="18" height="17" viewBox="0 0 18 17"><rect x="0" y="0" width="18" height="17" rx="2" fill="#34373c"/><rect x="2.500" y="6" width="5" height="8.500" fill="#fff"/><rect x="9.500" y="6" width="6" height="8.500" fill="#fff" opacity=".55"/></svg>
    <div id="cols">Стовпці</div>
  </div>

  <!-- pager -->
  <div id="psel" class="abs"><span>100</span><b class="arr" style="left:66.500px;top:14.500px;border-top-color:#222;border-bottom-width:0;border-width:7.500px 5.500px 0 5.500px"></b></div>
  <div id="pinfo" class="t" style="top:1490px">1 - 53 з 53</div>
  <svg class="ic" style="left:2330px;top:1491px" width="14" height="14" viewBox="0 0 14 14"><path d="M2 1v12M12 1L5 7l7 6" fill="none" stroke="#777b82" stroke-width="2.200"/></svg>
  <svg class="ic" style="left:2372px;top:1491px" width="9" height="14" viewBox="0 0 9 14"><path d="M8 1L1.500 7 8 13" fill="none" stroke="#777b82" stroke-width="2.200"/></svg>
  <svg class="ic" style="left:2511px;top:1491px" width="14" height="14" viewBox="0 0 14 14"><path d="M12 1v12M2 1l7 6-7 6" fill="none" stroke="#777b82" stroke-width="2.200"/></svg>
  <div id="fab" class="abs"><svg class="abs" style="left:15px;top:14px" width="40" height="36" viewBox="0 0 40 36"><g fill="none" stroke="#c9ebd0" stroke-width="2.200" opacity=".8"><rect x="14" y="3" width="22" height="16" rx="4"/><rect x="3" y="13" width="22" height="16" rx="4" fill="#3dae55"/><path d="M9 29v5l6-5"/></g></svg></div>
</div>
</body>
</html>
